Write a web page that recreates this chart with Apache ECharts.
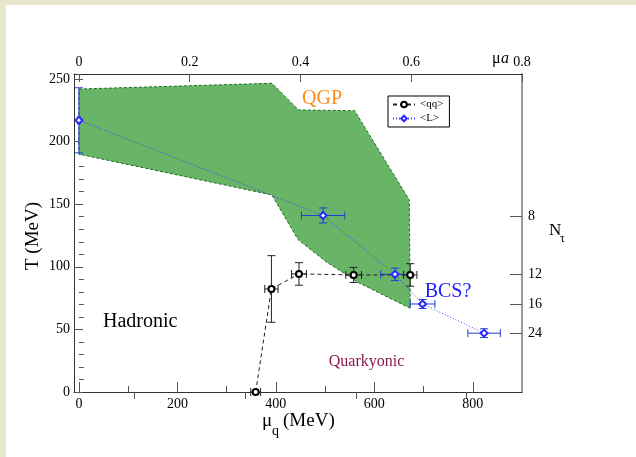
<!DOCTYPE html>
<html><head><meta charset="utf-8">
<script src="https://cdn.jsdelivr.net/npm/echarts@6/dist/echarts.min.js"></script>
<style>
html,body{margin:0;padding:0;width:636px;height:457px;background:#e8e6cc;overflow:hidden}
#panel{position:absolute;left:6px;top:5px;right:0;bottom:0;background:#fff}
#chart{position:absolute;left:0;top:0;width:636px;height:457px}
</style></head><body><div id="panel"></div><div id="chart"></div>
<script>
// axis ranges
const MU_MIN = -10, MU_MAX = 900, T_MIN = 0, T_MAX = 254;
const A_INV = 1125; // MeV, inverse lattice spacing (mu*a and N_tau scales)

// tick values
const muTicks = [0, 200, 400, 600, 800];
const muMinorTicks = [100, 300, 500, 700];
const muaTicks = [0, 0.2, 0.4, 0.6, 0.8];
const muaMinorTicks = [0.1, 0.3, 0.5, 0.7];
const tTicks = [0, 50, 100, 150, 200, 250];
const tMinorTicks = [10, 20, 30, 40, 60, 70, 80, 90, 110, 120, 130, 140, 160, 170, 180, 190, 210, 220, 230, 240];
const nTauTicks = [8, 12, 16, 24];

// green band (QGP transition region) outline
const bandMu = [0, 392, 446, 560, 671, 673, 570, 502, 445, 392, 0];
const bandT  = [242, 246.6, 225.3, 224.7, 153.4, 66.9, 86.9, 104.1, 121.8, 157.4, 190];

// <qq> series
const qqMu    = [359, 391, 447, 558, 673];
const qqT     = [0, 82.3, 94.3, 93.5, 93.5];
const qqMuErr = [10, 13.5, 15, 16, 13.5];
const qqTErr  = [0, 26.6, 9, 6, 9];

// <L> series
const lMu    = [0, 496, 642, 698, 823];
const lT     = [217, 141, 94, 70.3, 47];
const lMuErr = [3, 44, 29, 25, 33];
const lTErr  = [26, 6, 5, 3.6, 3.5];

const SERIF = 'Liberation Serif';
const chart = echarts.init(document.getElementById('chart'), null, {renderer: 'canvas'});

function errRender(color) {
  return function (params, api) {
    const x = api.value(0), y = api.value(1), dx = api.value(2), dy = api.value(3);
    const st = {stroke: color, lineWidth: 1, fill: null};
    const ch = [];
    const cap = 4;
    const seg = (a, b) => ({type: 'line', shape: {x1: a[0], y1: a[1], x2: b[0], y2: b[1]}, style: st});
    if (dx > 0) {
      const l = api.coord([x - dx, y]), r = api.coord([x + dx, y]);
      ch.push(seg(l, r));
      ch.push(seg([l[0], l[1] - cap], [l[0], l[1] + cap]));
      ch.push(seg([r[0], r[1] - cap], [r[0], r[1] + cap]));
    }
    if (dy > 0) {
      const t = api.coord([x, y + dy]), b = api.coord([x, y - dy]);
      ch.push(seg(t, b));
      ch.push(seg([t[0] - cap, t[1]], [t[0] + cap, t[1]]));
      ch.push(seg([b[0] - cap, b[1]], [b[0] + cap, b[1]]));
    }
    return {type: 'group', children: ch};
  };
}

const labelStyle = {fontFamily: SERIF, fontSize: 14, color: '#000'};

const option = {
  animation: false,
  grid: {left: 74, top: 74, right: 114, bottom: 65, containLabel: false},
  legend: {
    data: ['<qq>', '<L>'],
    left: 388, top: 96, orient: 'vertical',
    borderColor: '#000', borderWidth: 1, borderRadius: 0,
    padding: [3, 6, 3, 4], itemGap: 3, itemWidth: 22, itemHeight: 7,
    textStyle: {fontFamily: SERIF, fontSize: 11, color: '#000'}
  },
  xAxis: [
    {type: 'value', position: 'bottom', min: MU_MIN, max: MU_MAX,
      axisLine: {show: true, onZero: false, lineStyle: {color: '#333', width: 1}},
      axisTick: {show: true, inside: true, length: 10, customValues: muTicks, lineStyle: {color: '#555'}},
      axisLabel: Object.assign({customValues: muTicks, margin: 5}, labelStyle),
      splitLine: {show: false}},
    {type: 'value', position: 'bottom', min: MU_MIN, max: MU_MAX,
      axisLine: {show: false},
      axisTick: {show: true, inside: true, length: 6, customValues: muMinorTicks, lineStyle: {color: '#555'}},
      axisLabel: {show: false}, splitLine: {show: false}},
    {type: 'value', position: 'top', min: MU_MIN / A_INV, max: MU_MAX / A_INV,
      axisLine: {show: true, onZero: false, lineStyle: {color: '#333', width: 1}},
      axisTick: {show: true, inside: true, length: 8, customValues: muaTicks, lineStyle: {color: '#555'}},
      axisLabel: Object.assign({customValues: muaTicks, margin: 5, formatter: v => String(+v.toFixed(1))}, labelStyle),
      splitLine: {show: false}},
    {type: 'value', position: 'top', min: MU_MIN / A_INV, max: MU_MAX / A_INV,
      axisLine: {show: false},
      axisTick: {show: true, inside: true, length: 7, customValues: muaMinorTicks, lineStyle: {color: '#555'}},
      axisLabel: {show: false}, splitLine: {show: false}}
  ],
  yAxis: [
    {type: 'value', position: 'left', min: T_MIN, max: T_MAX,
      axisLine: {show: true, onZero: false, lineStyle: {color: '#333', width: 1}},
      axisTick: {show: true, inside: true, length: 9, customValues: tTicks, lineStyle: {color: '#555'}},
      axisLabel: Object.assign({customValues: tTicks, margin: 4}, labelStyle),
      splitLine: {show: false}},
    {type: 'value', position: 'left', min: T_MIN, max: T_MAX,
      axisLine: {show: false},
      axisTick: {show: true, inside: true, length: 5, customValues: tMinorTicks, lineStyle: {color: '#555'}},
      axisLabel: {show: false}, splitLine: {show: false}},
    {type: 'value', position: 'right', min: T_MIN, max: T_MAX,
      axisLine: {show: true, onZero: false, lineStyle: {color: '#999', width: 2}},
      axisTick: {show: true, inside: true, length: 12, customValues: nTauTicks.map(n => A_INV / n), lineStyle: {color: '#555'}},
      axisLabel: Object.assign({customValues: nTauTicks.map(n => A_INV / n), margin: 6,
        formatter: v => String(Math.round(A_INV / v))}, labelStyle),
      splitLine: {show: false}}
  ],
  series: [
    {type: 'custom', name: 'band', silent: true, z: 1, xAxisIndex: 0, yAxisIndex: 0,
      data: bandMu.map((m, i) => [m, bandT[i]]),
      renderItem: function (params, api) {
        if (params.dataIndex !== 0) return null;
        const pts = bandMu.map((m, i) => api.coord([m, bandT[i]]));
        return {type: 'polygon', shape: {points: pts},
          style: {fill: '#68b568', stroke: '#1a6e1a', lineWidth: 1, lineDash: [3, 2]}};
      }},
    {type: 'custom', name: 'qqErr', silent: true, z: 3, xAxisIndex: 0, yAxisIndex: 0,
      data: qqMu.map((m, i) => [m, qqT[i], qqMuErr[i], qqTErr[i]]),
      renderItem: errRender('#222')},
    {type: 'custom', name: 'lErr', silent: true, z: 3, xAxisIndex: 0, yAxisIndex: 0,
      data: lMu.map((m, i) => [m, lT[i], lMuErr[i], lTErr[i]]),
      renderItem: errRender('#1f3fd8')},
    {type: 'line', name: '<qq>', z: 4, xAxisIndex: 0, yAxisIndex: 0,
      data: qqMu.map((m, i) => [m, qqT[i]]),
      symbol: 'emptyCircle', symbolSize: 6, color: '#000',
      itemStyle: {borderWidth: 1},
      lineStyle: {color: '#222', width: 1, type: [4, 3]}, clip: false},
    {type: 'line', name: '<L>', z: 4, xAxisIndex: 0, yAxisIndex: 0,
      data: lMu.map((m, i) => [m, lT[i]]),
      symbol: 'emptyDiamond', symbolSize: 7, color: '#2a2aff',
      itemStyle: {borderWidth: 1},
      lineStyle: {color: '#3b3bff', width: 1, type: [1, 2]}, clip: false}
  ],
  graphic: [
    {type: 'text', x: 322, y: 98.5, style: {text: 'QGP', font: '20px ' + SERIF, fill: '#ff8a1e', align: 'center', verticalAlign: 'middle'}},
    {type: 'text', x: 448, y: 291.5, style: {text: 'BCS?', font: '20px ' + SERIF, fill: '#2020ff', align: 'center', verticalAlign: 'middle'}},
    {type: 'text', x: 103, y: 322, style: {text: 'Hadronic', font: '20px ' + SERIF, fill: '#000', align: 'left', verticalAlign: 'middle'}},
    {type: 'text', x: 366.5, y: 362, style: {text: 'Quarkyonic', font: '16px ' + SERIF, fill: '#8b1a4b', align: 'center', verticalAlign: 'middle'}},
    {type: 'text', x: 33, y: 236, rotation: Math.PI / 2, style: {text: 'T (MeV)', font: '19px ' + SERIF, fill: '#000', align: 'center', verticalAlign: 'middle'}},
    {type: 'text', x: 262, y: 421, style: {text: 'μ', font: '19px ' + SERIF, fill: '#000', align: 'left', verticalAlign: 'middle'}},
    {type: 'text', x: 272, y: 431, style: {text: 'q', font: '14px ' + SERIF, fill: '#000', align: 'left', verticalAlign: 'middle'}},
    {type: 'text', x: 283, y: 421, style: {text: '(MeV)', font: '19px ' + SERIF, fill: '#000', align: 'left', verticalAlign: 'middle'}},
    {type: 'text', x: 549, y: 231, style: {text: 'N', font: '17px ' + SERIF, fill: '#000', align: 'left', verticalAlign: 'middle'}},
    {type: 'text', x: 560, y: 239, style: {text: 'τ', font: '12px ' + SERIF, fill: '#000', align: 'left', verticalAlign: 'middle'}},
    {type: 'text', x: 492, y: 59, style: {text: 'μ', font: '16px ' + SERIF, fill: '#000', align: 'left', verticalAlign: 'middle'}},
    {type: 'text', x: 501, y: 59, style: {text: 'a', font: 'italic 16px ' + SERIF, fill: '#000', align: 'left', verticalAlign: 'middle'}}
  ]
};
chart.setOption(option);
</script></body></html>
